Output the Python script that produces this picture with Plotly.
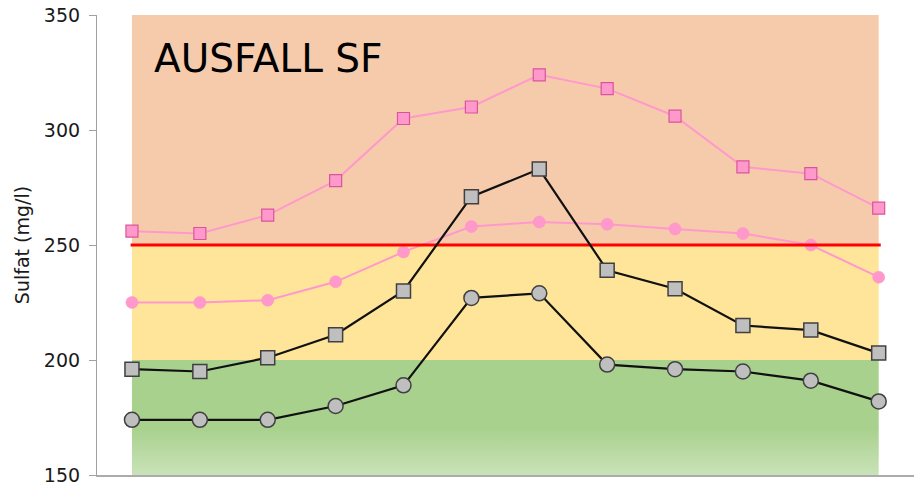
import plotly.graph_objects as go

# ---- data ----
months = list(range(1, 13))
black_sq = [196, 195, 201, 211, 230, 271, 283, 239, 231, 215, 213, 203]
black_ci = [174, 174, 174, 180, 189, 227, 229, 198, 196, 195, 191, 182]
pink_sq = [256, 255, 263, 278, 305, 310, 324, 318, 306, 284, 281, 266]
pink_ci = [225, 225, 226, 234, 247, 258, 260, 259, 257, 255, 250, 236]
band_edges = [150, 200, 250, 350]
band_colors = ["#A9D18E", "#FFE599", "#F6CBAB"]
limit_value = 250
y_ticks = [150, 200, 250, 300, 350]
title_text = "AUSFALL SF"
y_title = "Sulfat (mg/l)"

FONT = "DejaVu Sans"

fig = go.Figure()

x0, x1 = months[0], months[-1]
for i, col in enumerate(band_colors):
    lo, hi = band_edges[i], band_edges[i + 1]
    kw = dict(fillcolor=col)
    if i == 0:
        kw = dict(fillgradient=dict(type="vertical", start=lo, stop=lo + 20,
                                    colorscale=[[0, "#C9E3B8"], [1, col]]))
    fig.add_trace(go.Scatter(
        x=[x0, x1, x1, x0, x0], y=[lo, lo, hi, hi, lo],
        fill="toself", mode="none", hoverinfo="skip", showlegend=False, **kw))

# pink series
fig.add_trace(go.Scatter(
    x=months, y=pink_sq, mode="lines+markers", showlegend=False,
    line=dict(color="#FF99CC", width=2),
    marker=dict(symbol="square", size=12, color="#FF99CC",
                line=dict(color="#D9559B", width=1.2))))
fig.add_trace(go.Scatter(
    x=months, y=pink_ci, mode="lines+markers", showlegend=False,
    line=dict(color="#FF99CC", width=2),
    marker=dict(symbol="circle", size=12, color="#FF99CC",
                line=dict(color="#FF8CC4", width=0.5))))

# limit line
fig.add_trace(go.Scatter(
    x=[x0 - 0.02, x1 + 0.03], y=[limit_value, limit_value], mode="lines",
    showlegend=False, line=dict(color="#FF0000", width=3), hoverinfo="skip"))

# black series
fig.add_trace(go.Scatter(
    x=months, y=black_sq, mode="lines+markers", showlegend=False,
    line=dict(color="#111111", width=2.2),
    marker=dict(symbol="square", size=14, color="#BFBFBF",
                line=dict(color="#404040", width=1.5))))
fig.add_trace(go.Scatter(
    x=months, y=black_ci, mode="lines+markers", showlegend=False,
    line=dict(color="#111111", width=2.2),
    marker=dict(symbol="circle", size=15, color="#BFBFBF",
                line=dict(color="#404040", width=1.5))))

fig.add_annotation(
    x=x0 + 0.3, y=331, xref="x", yref="y", text=title_text, showarrow=False,
    xanchor="left", yanchor="middle",
    font=dict(family=FONT, size=39, color="#000000"))

fig.update_layout(
    width=914, height=491,
    margin=dict(l=97, r=0, t=15, b=16, autoexpand=False),
    paper_bgcolor="white", plot_bgcolor="white",
    font=dict(family=FONT, color="#1a1a1a"),
    xaxis=dict(range=[x0 - 0.515, x1 + 0.52], showgrid=False, zeroline=False,
               showticklabels=False, ticks="", showline=True,
               linecolor="#ABABAB", linewidth=1.5),
    yaxis=dict(range=[band_edges[0], band_edges[-1]], tickvals=y_ticks,
               showgrid=False, zeroline=False, showline=True,
               linecolor="#A0A0A0", linewidth=1.2, ticks="outside",
               ticklen=7, tickcolor="#A0A0A0", tickwidth=1.2,
               ticklabelstandoff=5,
               tickfont=dict(family=FONT, size=19, color="#1a1a1a"),
               title=dict(text=y_title, standoff=9,
                          font=dict(family=FONT, size=19, color="#1a1a1a"))),
)

fig.write_html("out.html")
